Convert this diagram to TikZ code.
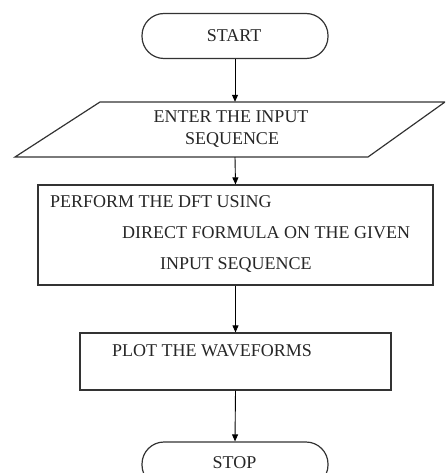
\documentclass[tikz,border=0pt]{standalone}
\usepackage{fontspec}
\setmainfont{Liberation Serif}
\usetikzlibrary{arrows.meta}
\begin{document}
\begin{tikzpicture}[x=1pt,y=-1pt,
  ln/.style={draw=black!80, line width=1.2pt},
  term/.style={ln, rectangle, rounded corners=22pt, minimum width=186pt, minimum height=45pt, inner sep=0pt},
  boxs/.style={ln, rectangle, inner sep=0pt},
  txt/.style={text=black!85, font=\fontsize{18}{21}\selectfont, inner sep=0pt},
  arr/.style={draw=black, line width=0.9pt, -{Triangle[length=7pt,width=6pt]}}]
\useasboundingbox (0,0) rectangle (445,473);
\clip (0,0) rectangle (445,473);
% START
\node[term] (start) at (235,36) {};
\node[txt] (starttxt) at (234,36) {START};
% input parallelogram
\node[minimum width=260pt, minimum height=55pt, inner sep=0pt] (in) at (235,129.5) {};
\draw[ln] (100,102) -- (445,102) -- (368,157) -- (15,157) -- cycle;
\node[txt] (in1) at (231,117) {ENTER THE INPUT};
\node[txt] (in2) at (232,140) {SEQUENCE};
% DFT box
\node[boxs, minimum width=395pt, minimum height=100pt] (dft) at (235.5,235) {};
\node[txt, anchor=west] (d1) at (50,202) {PERFORM THE DFT USING};
\node[txt, anchor=west] (d2) at (122,233) {DIRECT FORMULA ON THE GIVEN};
\node[txt, anchor=west] (d3) at (160,265) {INPUT SEQUENCE};
% plot box
\node[boxs, minimum width=311pt, minimum height=57pt] (plot) at (235.5,361.5) {};
\node[txt, anchor=west] (p1) at (112,351) {PLOT THE WAVEFORMS};
% STOP
\node[term] (stop) at (235,464.5) {};
\node[txt] (stoptxt) at (234.5,463) {STOP};
% arrows
\draw[arr] (start.south) -- (in.north);
\draw[arr] (in.south) -- (dft.north);
\draw[arr] (dft.south) -- (plot.north);
\draw[arr] (plot.south) -- (stop.north);
\end{tikzpicture}
\end{document}
